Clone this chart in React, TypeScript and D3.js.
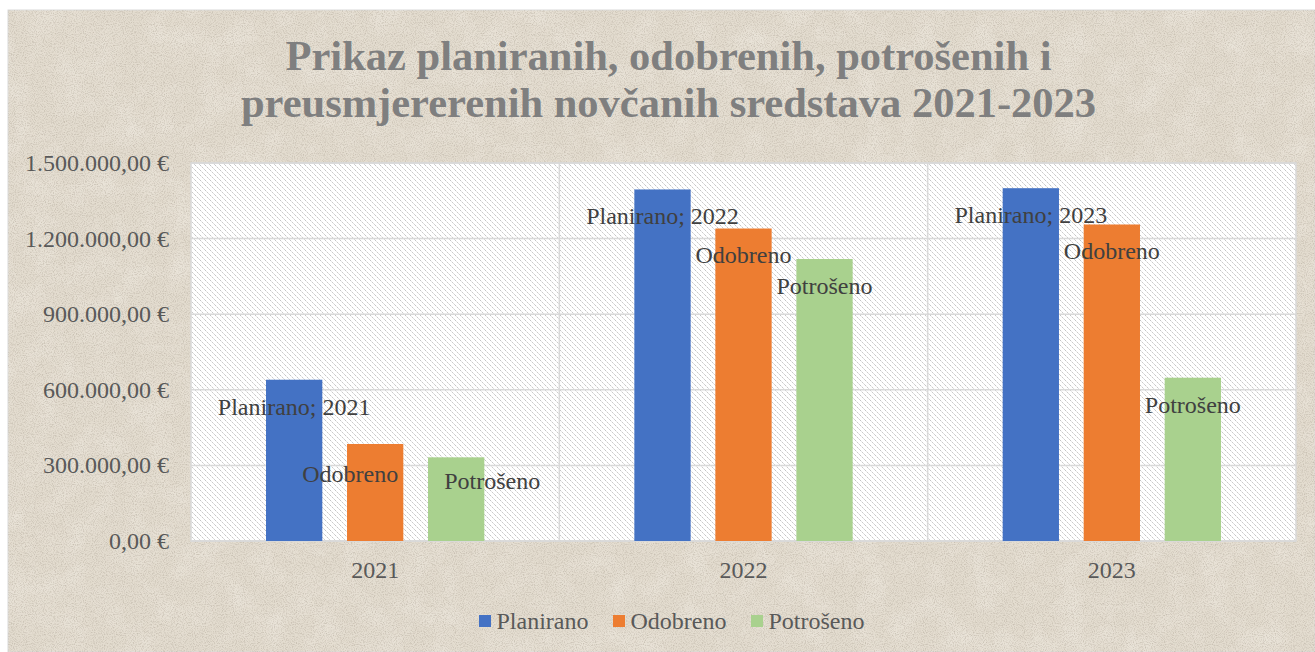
import React from "react";
import * as d3 from "d3";

const categories = ["2021", "2022", "2023"];
const seriesNames = ["Planirano", "Odobreno", "Potrošeno"];
const planirano = [640000, 1395000, 1400000];
const odobreno = [385000, 1240000, 1256000];
const potroseno = [332000, 1119000, 648000];
const yTicks = [0, 300000, 600000, 900000, 1200000, 1500000];
const titleLines = [
  "Prikaz planiranih, odobrenih, potrošenih i",
  "preusmjererenih novčanih sredstava 2021-2023",
];

const seriesValues = [planirano, odobreno, potroseno];
const colors = ["#4472C4", "#ED7D31", "#A9D18E"];
// manual label nudges (dx, dy) keyed "series|category"
const labelNudge: Record<string, [number, number]> = {
  "Odobreno|2021": [-25, 3],
  "Potrošeno|2021": [36, -3],
};

const W = 1315;
const H = 652;
const plot = { left: 191, right: 1296, top: 163, bottom: 541 };
const FS = 24;
const FONT = "'Liberation Serif', 'Times New Roman', serif";

const locale = d3.formatLocale({
  decimal: ",",
  thousands: ".",
  grouping: [3],
  currency: ["", " €"],
});
const fmt = locale.format("$,.2f");

export default function App() {
  const x0 = d3.scaleBand<string>().domain(categories).range([plot.left, plot.right]).padding(0);
  const x1 = d3
    .scaleBand<string>()
    .domain(seriesNames)
    .range([0, x0.bandwidth()])
    .paddingInner(0.305)
    .paddingOuter(0.926);
  const y = d3.scaleLinear().domain([0, 1500000]).range([plot.bottom, plot.top]);

  const legendItems = [
    { name: seriesNames[0], x: 479 },
    { name: seriesNames[1], x: 613 },
    { name: seriesNames[2], x: 751 },
  ];

  return (
    <svg
      width={W}
      height={H}
      style={{ position: "absolute", left: 0, top: 0, display: "block" }}
      xmlns="http://www.w3.org/2000/svg"
    >
      <defs>
        <pattern id="hatch" width="5" height="5" patternUnits="userSpaceOnUse">
          <rect width="5" height="5" fill="#ffffff" />
          <path d="M0,0 L5,5 M-1,4 L1,6 M4,-1 L6,1" stroke="#c4c4c4" strokeWidth="1" strokeDasharray="2,1" />
        </pattern>
        <filter id="paper" x="0" y="0" width="100%" height="100%">
          <feTurbulence type="fractalNoise" baseFrequency="0.9" numOctaves="2" seed="3" result="n" />
          <feColorMatrix
            type="matrix"
            values="0 0 0 0 0.45  0 0 0 0 0.40  0 0 0 0 0.33  0 0 0 -2.2 1.25"
            in="n"
            result="spk"
          />
          <feComposite in="spk" in2="SourceGraphic" operator="in" />
        </filter>
        <filter id="paper2" x="0" y="0" width="100%" height="100%">
          <feTurbulence type="fractalNoise" baseFrequency="0.035" numOctaves="3" seed="7" result="n" />
          <feColorMatrix
            type="matrix"
            values="0 0 0 0 1  0 0 0 0 0.98  0 0 0 0 0.94  0 0 0 0.5 -0.2"
            in="n"
            result="blot"
          />
          <feComposite in="blot" in2="SourceGraphic" operator="in" />
        </filter>
      </defs>

      {/* page background */}
      <rect x={0} y={0} width={W} height={H} fill="#ffffff" />
      {/* chart area */}
      <rect x={8} y={10} width={W - 8} height={H - 10} fill="#e3dccf" stroke="#d9d9d9" strokeWidth={1} />
      <rect x={8} y={10} width={W - 8} height={H - 10} fill="#e3dccf" filter="url(#paper2)" />
      <rect x={8} y={10} width={W - 8} height={H - 10} fill="#e3dccf" filter="url(#paper)" opacity={0.6} />

      {/* title */}
      {titleLines.map((t, i) => (
        <text
          key={i}
          x={668.5}
          y={70 + i * 47}
          textAnchor="middle"
          fontFamily={FONT}
          fontWeight="bold"
          fontSize={42.5}
          fill="#7f7f7f"
        >
          {t}
        </text>
      ))}

      {/* plot area */}
      <rect
        x={plot.left}
        y={plot.top}
        width={plot.right - plot.left}
        height={plot.bottom - plot.top}
        fill="url(#hatch)"
      />
      {yTicks.map((t) => (
        <line
          key={t}
          x1={plot.left}
          x2={plot.right}
          y1={y(t)}
          y2={y(t)}
          stroke="#d9d9d9"
          strokeWidth={1.5}
        />
      ))}
      {categories.slice(1).map((c) => (
        <line
          key={c}
          x1={x0(c)!}
          x2={x0(c)!}
          y1={plot.top}
          y2={plot.bottom}
          stroke="#d9d9d9"
          strokeWidth={1.5}
        />
      ))}
      <rect
        x={plot.left}
        y={plot.top}
        width={plot.right - plot.left}
        height={plot.bottom - plot.top}
        fill="none"
        stroke="#d9d9d9"
        strokeWidth={1.5}
      />

      {/* bars */}
      {categories.map((c, ci) =>
        seriesNames.map((s, si) => {
          const v = seriesValues[si][ci];
          return (
            <rect
              key={c + s}
              x={x0(c)! + x1(s)!}
              y={y(v)}
              width={x1.bandwidth()}
              height={y(0) - y(v)}
              fill={colors[si]}
            />
          );
        })
      )}

      {/* data labels */}
      {categories.map((c, ci) =>
        seriesNames.map((s, si) => {
          const v = seriesValues[si][ci];
          const nudge = labelNudge[s + "|" + c] || [0, 0];
          const cx = x0(c)! + x1(s)! + x1.bandwidth() / 2 + nudge[0];
          const cy = y(v) + 27 + nudge[1];
          const label = si === 0 ? `${s}; ${c}` : s;
          return (
            <text
              key={"l" + c + s}
              x={cx}
              y={cy + FS * 0.33}
              textAnchor="middle"
              fontFamily={FONT}
              fontSize={FS}
              fill="#404040"
            >
              {label}
            </text>
          );
        })
      )}

      {/* y axis labels */}
      {yTicks.map((t) => (
        <text
          key={"y" + t}
          x={169}
          y={y(t) + FS * 0.33}
          textAnchor="end"
          fontFamily={FONT}
          fontSize={FS}
          fill="#595959"
        >
          {fmt(t)}
        </text>
      ))}

      {/* x axis labels */}
      {categories.map((c) => (
        <text
          key={"x" + c}
          x={x0(c)! + x0.bandwidth() / 2}
          y={578}
          textAnchor="middle"
          fontFamily={FONT}
          fontSize={FS}
          fill="#595959"
        >
          {c}
        </text>
      ))}

      {/* legend */}
      {legendItems.map((it, i) => (
        <g key={it.name}>
          <rect x={it.x} y={615} width={12} height={12} fill={colors[i]} />
          <text x={it.x + 17.5} y={628.5} fontFamily={FONT} fontSize={FS} fill="#595959">
            {it.name}
          </text>
        </g>
      ))}
    </svg>
  );
}
